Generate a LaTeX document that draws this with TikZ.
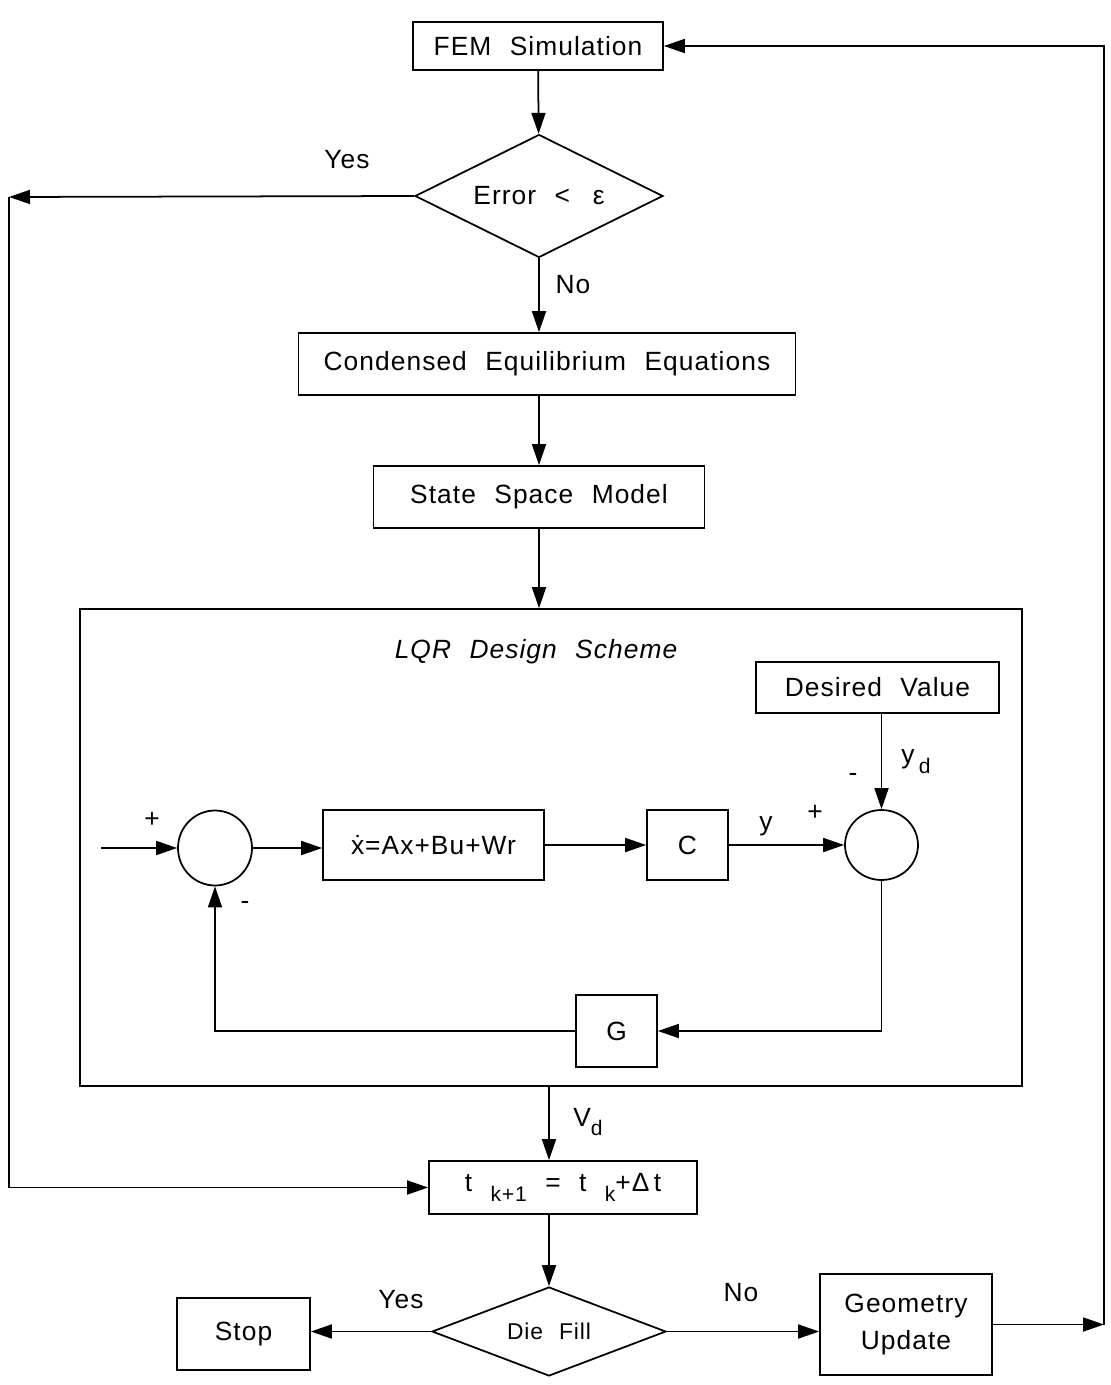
\documentclass[tikz,border=0pt]{standalone}
\usepackage{fontspec}
\setmainfont{Liberation Sans}[LetterSpace=4,WordSpace=2.2]
\usetikzlibrary{shapes.geometric,arrows.meta}
\newcommand{\flowfont}{\fontsize{15}{21}\selectfont}
\newcommand{\smallflow}{\fontsize{13}{16}\selectfont}
\newcommand{\lowsub}[1]{\raisebox{-0.7ex}{\fontsize{12}{14}\selectfont #1}}

\begin{document}
\begin{tikzpicture}[x=0.02cm, y=-0.02cm, line width=1pt,
	box/.style={draw, inner sep=0pt, align=center, font=\flowfont},
	dec/.style={draw, diamond, aspect=2, inner sep=0pt, align=center, font=\flowfont},
	sumnode/.style={draw, ellipse, inner sep=0pt},
	arr/.style={-{Triangle[length=0.42cm,width=0.28cm]}},
	lbl/.style={font=\flowfont, inner sep=0pt}]
		\useasboundingbox (0,0) rectangle (1110,1385);
		%主流程
		\node[box, minimum width=5cm, minimum height=0.96cm] (fem) at(538,46) {FEM Simulation};
		\node[dec, minimum width=4.96cm, minimum height=2.46cm] (err) at(539,196) {Error < \,ε};
		\node[box, minimum width=9.94cm, minimum height=1.24cm] (cond) at(547,364) {Condensed Equilibrium Equations};
		\node[box, minimum width=6.62cm, minimum height=1.24cm] (ssm) at(539,497) {State Space Model};
		\node[draw, minimum width=18.84cm, minimum height=9.54cm, inner sep=0pt] (lqr) at(551,847.5) {};
		\node[box, minimum width=5.36cm, minimum height=1.06cm] (tbox) at(563,1187.5) {t \lowsub{k+1} = t \lowsub{k}+Δ\,t};
		\node[dec, minimum width=4.68cm, minimum height=1.78cm, font=\smallflow] (die) at(549,1331.5) {Die Fill};
		\node[box, minimum width=2.66cm, minimum height=1.44cm] (stop) at(243.5,1334) {Stop};
		\node[box, minimum width=3.44cm, minimum height=2.02cm] (geo) at(906,1324.5) {Geometry\\Update};
		\coordinate (yl) at(9,197);
		\coordinate (rc) at(1104,1324.5);
		\draw[arr] (fem) -- (err);
		\draw[arr] (err.south) -- (err.south |- cond.north);
		\draw[arr] (ssm.north |- cond.south) -- (ssm.north);
		\draw[arr] (ssm.south) -- (ssm.south |- lqr.north);
		\draw[arr] (lqr.south -| die.north) -- (die.north |- tbox.north);
		\draw[arr] (die.north |- tbox.south) -- (die.north);
		\draw[arr] (err.west) -- (yl);
		\draw[arr] (yl) |- (tbox.west);
		\draw[arr] (die.west) -- (die.west -| stop.east);
		\draw[arr] (die.east) -- (die.east -| geo.west);
		\draw[arr] (geo.east) -- (rc);
		\draw[arr] (rc) |- (fem.east);
		\node[lbl] (yes1) at(347,160) {Yes};
		\node[lbl] (no1) at(573,285) {No};
		\node[lbl] (vd) at(588,1122) {V\lowsub{d}};
		\node[lbl] (yes2) at(401,1300) {Yes};
		\node[lbl] (no2) at(741,1293) {No};
		%LQR
		\node[lbl, font=\flowfont\itshape] (ttl) at(536,652) {LQR Design Scheme};
		\node[box, minimum width=4.86cm, minimum height=1.02cm] (des) at(877.5,687.5) {Desired Value};
		\node[sumnode, minimum width=1.48cm, minimum height=1.5cm] (sumL) at(215,848) {};
		\node[box, minimum width=4.42cm, minimum height=1.4cm] (plant) at(433.5,845) {\.{x}=Ax+Bu+Wr};
		\node[box, minimum width=1.62cm, minimum height=1.4cm] (cbox) at(687.5,845) {C};
		\node[sumnode, minimum width=1.46cm, minimum height=1.4cm] (sumR) at(881.5,845) {};
		\node[box, minimum width=1.62cm, minimum height=1.44cm] (gbox) at(616.5,1031) {G};
		\coordinate (in) at(101,848);
		\draw[arr] (in) -- (sumL);
		\draw[arr] (sumL.east) -- (sumL.east -| plant.west);
		\draw[arr] (plant) -- (cbox);
		\draw[arr] (cbox) -- (sumR);
		\draw[arr] (sumR.north |- des.south) -- (sumR.north);
		\draw[arr] (sumR.south) |- (gbox.east);
		\draw[arr] (gbox.west) -| (sumL.south);
		\node[lbl] (pl1) at(152,820) {+};
		\node[lbl] (mi1) at(245,905) {-};
		\node[lbl] (yout) at(766,826) {y};
		\node[lbl] (pl2) at(815,813) {+};
		\node[lbl] (mi2) at(853,777) {-};
		\node[lbl] (yd) at(916,762) {y\,\lowsub{d}};
	\end{tikzpicture}
\end{document}
